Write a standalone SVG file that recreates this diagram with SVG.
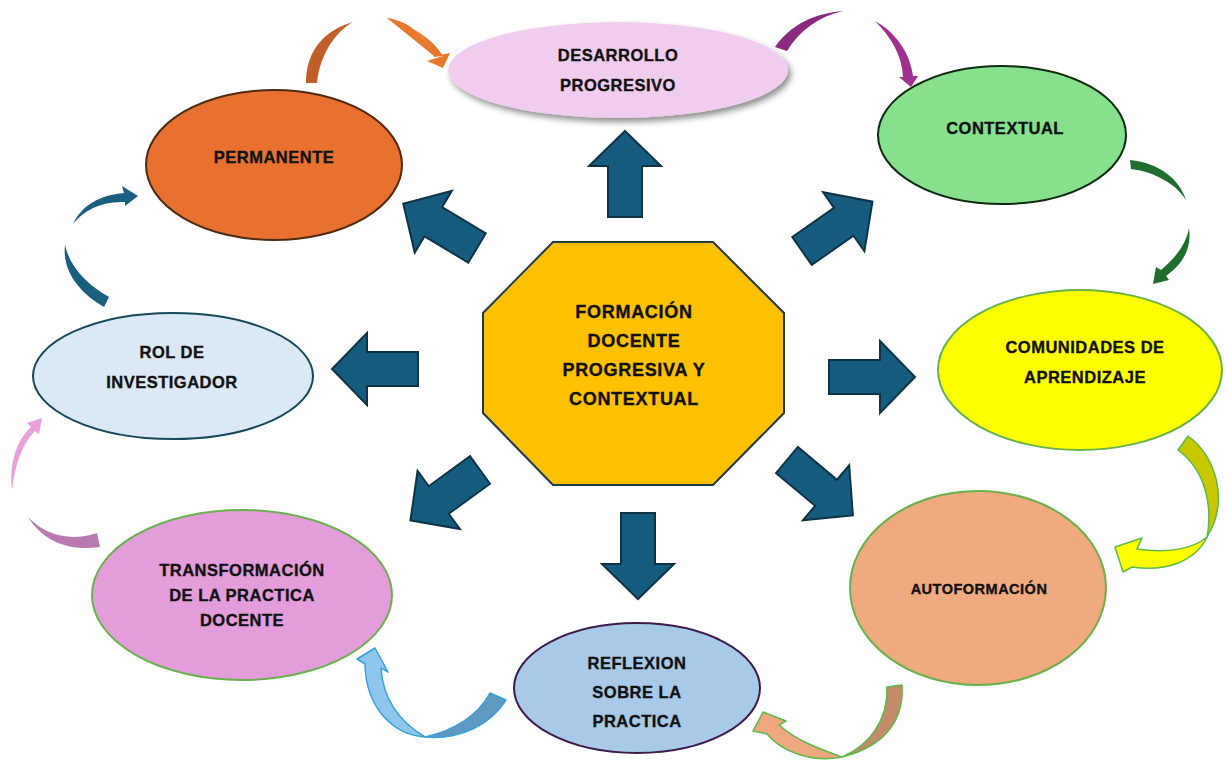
<svg xmlns="http://www.w3.org/2000/svg" width="1225" height="762" viewBox="0 0 1225 762">
<style>
text{font-family:"Liberation Sans",Arial,sans-serif;font-weight:bold;fill:#111;stroke:#111;stroke-width:0.35px;text-anchor:middle;font-size:16.5px;letter-spacing:0.5px}
.c{font-size:18px;letter-spacing:0.7px}
.blk{fill:#165c7e;stroke:#0e3346;stroke-width:2;stroke-linejoin:miter}
.ol{stroke:#5cb848;stroke-width:1.5;stroke-linejoin:round}
</style>
<defs>
<path id="blk" d="M0,-17 L51,-17 L51,-36 L86,0 L51,36 L51,17 L0,17 Z"/>
<filter id="sh" x="-10%" y="-20%" width="125%" height="150%">
<feGaussianBlur in="SourceAlpha" stdDeviation="3"/>
<feOffset dx="3" dy="4" result="b"/>
<feComponentTransfer><feFuncA type="linear" slope="0.45"/></feComponentTransfer>
<feMerge><feMergeNode/><feMergeNode in="SourceGraphic"/></feMerge>
</filter>
</defs>
<rect width="1225" height="762" fill="#fff"/>

<g id="connectors">
<g id="block-arrows" class="blk">
<use href="#blk" transform="translate(625,217) rotate(-90)"/>
<use href="#blk" transform="translate(638,513) rotate(90)"/>
<use href="#blk" transform="translate(418,369) rotate(180)"/>
<use href="#blk" transform="translate(829,377)"/>
<use href="#blk" transform="translate(477,248) rotate(211)"/>
<use href="#blk" transform="translate(802,251) rotate(-35)"/>
<use href="#blk" transform="translate(480,470) rotate(144)"/>
<use href="#blk" transform="translate(787,460) rotate(40)"/>
</g>
<g id="curved-arrows">
<path fill="#c05f2a" d="M306,83 C306,50 325,30 353,22 C335,32 320,55 317,83 Z"/>
<path fill="#e8782e" d="M387,18 C410,22 426,36 434,56 L450,53 L443,68 L427,61 L443,56 L434,56 Z"/>
<path fill="#e8782e" d="M387,18 C410,22 426,36 434,57 L443,56 C432,38 412,26 387,18 Z"/>
<path fill="#8a2a7e" d="M775,47 C790,25 815,13 843,11 C818,17 800,30 787,51 Z"/>
<path fill="#a0308f" d="M875,21 C895,32 910,52 913,76 L918,76 L911,87 L899,77 L903,77 C902,56 892,38 875,21 Z"/>
<path fill="#1f6e2e" d="M1130,160 C1160,163 1180,180 1186,200 C1176,184 1155,172 1131,169 Z"/>
<path fill="#1f6e2e" d="M1189,228 C1192,248 1183,264 1166,276 L1169,280 L1153,284 L1156,267 L1161,270 C1175,258 1186,245 1189,228 Z"/>
<path class="ol" fill="#c8c800" d="M1178,450 L1188,436 C1215,455 1230,500 1207,537 C1213,505 1205,470 1178,450 Z"/>
<path class="ol" fill="#ffff00" d="M1207,537 C1195,562 1165,572 1132,567 L1123,572 L1115,547 L1142,538 L1137,549 C1165,553 1192,550 1207,537 Z"/>
<path class="ol" fill="#c48a6a" d="M887,687 L902,685 C904,715 890,745 842,757 C870,745 888,720 887,687 Z"/>
<path class="ol" fill="#f0a880" d="M842,757 C812,763 782,752 767,734 L753,731 L763,712 L786,721 L779,725 C797,741 820,749 842,757 Z"/>
<path stroke="#3aa0d8" stroke-width="1.5" stroke-linejoin="round" fill="#5f98c0" d="M490,693 L506,700 C490,725 460,740 425,737 C455,730 478,715 490,693 Z"/>
<path stroke="#3aa0d8" stroke-width="1.5" stroke-linejoin="round" fill="#8ec6ee" d="M425,737 C395,735 366,710 365,664 L357,659 L375,648 L388,672 L381,668 C383,700 400,722 425,737 Z"/>
<path fill="#e8a0da" d="M12,490 C9,462 17,440 31,427 L27,423 L42,418 L39,434 L35,431 C22,444 15,465 12,490 Z"/>
<path fill="#b87ab0" d="M28,517 C45,535 70,542 97,533 L100,547 C68,552 42,540 28,517 Z"/>
<path fill="#1a5e80" d="M73,224 C82,205 100,195 124,193 L122,186 L138,196 L125,206 L125,202 C102,201 84,210 73,224 Z"/>
<path fill="#1a5e80" d="M65,245 C62,272 80,293 104,307 L109,297 C88,285 70,268 65,245 Z"/>
</g>
</g>

<g id="center">
<polygon points="553,242 713,242 784,313 784,413 713,485 553,485 483,413 483,313" fill="#ffc000" stroke="#1e3a4a" stroke-width="2"/>
<text class="c" x="634" y="318">FORMACIÓN</text>
<text class="c" x="634" y="347">DOCENTE</text>
<text class="c" x="634" y="376">PROGRESIVA Y</text>
<text class="c" x="634" y="405">CONTEXTUAL</text>
</g>

<g id="desarrollo">
<ellipse cx="618" cy="70" rx="170" ry="48" fill="#f0cdee" filter="url(#sh)"/>
<text x="618" y="61">DESARROLLO</text>
<text x="618" y="91">PROGRESIVO</text>
</g>

<g id="contextual">
<ellipse cx="1002" cy="135" rx="124" ry="69" fill="#86e08c" stroke="#0f2a12" stroke-width="2"/>
<text x="1005" y="134">CONTEXTUAL</text>
</g>

<g id="permanente">
<ellipse cx="274" cy="165" rx="128" ry="75" fill="#e87130" stroke="#4d2a10" stroke-width="2"/>
<text x="274" y="163">PERMANENTE</text>
</g>

<g id="rol">
<ellipse cx="173" cy="376" rx="140" ry="63" fill="#dbe8f5" stroke="#16485c" stroke-width="2"/>
<text x="172" y="358">ROL DE</text>
<text x="172" y="388">INVESTIGADOR</text>
</g>

<g id="comunidades">
<ellipse cx="1080" cy="370" rx="142" ry="80" fill="#ffff00" stroke="#6ab04c" stroke-width="2"/>
<text x="1085" y="353">COMUNIDADES DE</text>
<text x="1085" y="383">APRENDIZAJE</text>
</g>

<g id="autoformacion">
<ellipse cx="978" cy="588" rx="128" ry="97" fill="#f0aa80" stroke="#6ab04c" stroke-width="2"/>
<text x="979" y="594" style="font-size:14.5px">AUTOFORMACIÓN</text>
</g>

<g id="reflexion">
<ellipse cx="637" cy="688" rx="123" ry="65" fill="#a9c9e9" stroke="#3d1a4a" stroke-width="2"/>
<text x="637" y="669">REFLEXION</text>
<text x="637" y="698">SOBRE LA</text>
<text x="637" y="727">PRACTICA</text>
</g>

<g id="transformacion">
<ellipse cx="242" cy="595" rx="150" ry="85" fill="#e39ddb" stroke="#6ab04c" stroke-width="2"/>
<text x="242" y="576">TRANSFORMACIÓN</text>
<text x="242" y="601">DE LA PRACTICA</text>
<text x="242" y="626">DOCENTE</text>
</g>
</svg>
